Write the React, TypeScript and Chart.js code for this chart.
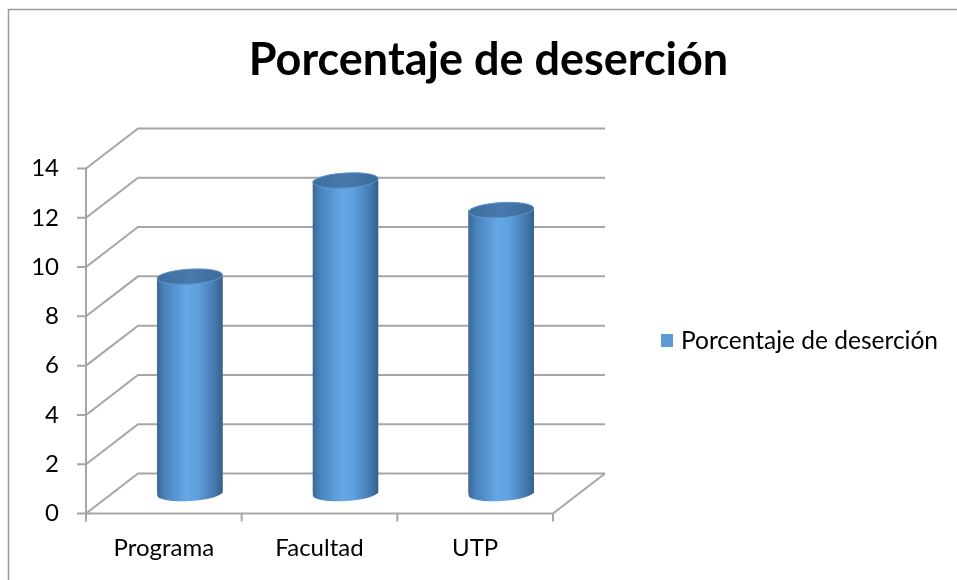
import React, { useEffect, useRef } from "react";
import { Chart, registerables } from "chart.js";

Chart.register(...registerables);

// ---- data ----
const TITLE = "Porcentaje de deserción";
const SERIES_NAME = "Porcentaje de deserción";
const CATEGORIES = ["Programa", "Facultad", "UTP"];
const VALUES = [8.8, 12.7, 11.5];
const Y_MIN = 0;
const Y_MAX = 14;
const Y_STEP = 2;

// ---- style ----
const FONT = "Lato, 'Open Sans', sans-serif";
const DX = 26; // half depth offset (x)
const DY = 20; // half depth offset (y)
const GRID = "#a6a6a6";
const BAR_BASE = "#5b9bd5";
const BAR_WIDTH_FRACTION = 0.42;

function cylGradient(ctx: CanvasRenderingContext2D, cx: number, w: number) {
  const g = ctx.createLinearGradient(cx - w / 2, 0, cx + w / 2, 0);
  g.addColorStop(0, "#3a6897");
  g.addColorStop(0.12, "#4a83bd");
  g.addColorStop(0.45, "#65a8e6");
  g.addColorStop(0.62, "#5fa0de");
  g.addColorStop(0.88, "#4579af");
  g.addColorStop(1, "#345f8c");
  return g;
}

const framePlugin = {
  id: "frame3d",
  beforeDraw(chart: any) {
    const ctx = chart.ctx as CanvasRenderingContext2D;
    ctx.save();
    ctx.fillStyle = "#ffffff";
    ctx.fillRect(0, 0, chart.width, chart.height);
    ctx.strokeStyle = "#9a9a9a";
    ctx.lineWidth = 1.5;
    ctx.beginPath();
    ctx.moveTo(8.5, chart.height + 5);
    ctx.lineTo(8.5, 9.5);
    ctx.lineTo(chart.width + 5, 9.5);
    ctx.stroke();
    ctx.restore();
  },
  beforeDatasetsDraw(chart: any) {
    const ctx = chart.ctx as CanvasRenderingContext2D;
    const a = chart.chartArea;
    const ys = chart.scales.y;
    const xs = chart.scales.x;
    ctx.save();
    ctx.strokeStyle = GRID;
    ctx.lineWidth = 2;
    ys.ticks.forEach((t: any) => {
      const py = ys.getPixelForValue(t.value);
      ctx.beginPath();
      ctx.moveTo(a.left - DX - 9, py + DY);
      ctx.lineTo(a.left - DX, py + DY);
      ctx.lineTo(a.left + DX, py - DY);
      ctx.lineTo(a.right + DX, py - DY);
      ctx.stroke();
    });
    const y0 = ys.getPixelForValue(Y_MIN);
    const yTop = ys.getPixelForValue(Y_MAX);
    ctx.beginPath();
    ctx.moveTo(a.left - DX, yTop + DY);
    ctx.lineTo(a.left - DX, y0 + DY);
    ctx.stroke();
    ctx.beginPath();
    ctx.moveTo(a.left - DX, y0 + DY);
    ctx.lineTo(a.right - DX, y0 + DY);
    ctx.lineTo(a.right + DX, y0 - DY);
    ctx.stroke();
    for (let i = 0; i <= CATEGORIES.length; i++) {
      const px = xs.getPixelForValue(i - 0.5) - DX;
      ctx.beginPath();
      ctx.moveTo(px, y0 + DY);
      ctx.lineTo(px, y0 + DY + 8);
      ctx.stroke();
    }
    ctx.restore();
  },
  afterDatasetsDraw(chart: any) {
    const ctx = chart.ctx as CanvasRenderingContext2D;
    const meta = chart.getDatasetMeta(0);
    ctx.save();
    meta.data.forEach((el: any) => {
      const { x, y, base, width } = el.getProps(["x", "y", "base", "width"], true);
      const rx = width / 2;
      const ry = 7.5;
      const rot = -0.06;
      // cylinder body with rounded bottom
      ctx.beginPath();
      ctx.ellipse(x, base, rx, ry, rot, 0, Math.PI, false);
      ctx.ellipse(x, y, rx, ry, rot, Math.PI, Math.PI * 2, false);
      ctx.closePath();
      ctx.fillStyle = cylGradient(ctx, x, width);
      ctx.fill();
      // top cap
      const tg = ctx.createLinearGradient(x - rx, 0, x + rx, 0);
      tg.addColorStop(0, "#3e6e9f");
      tg.addColorStop(0.5, "#4679ad");
      tg.addColorStop(1, "#3c6b9b");
      ctx.beginPath();
      ctx.ellipse(x, y, rx, ry, rot, 0, Math.PI * 2);
      ctx.fillStyle = tg;
      ctx.fill();
      ctx.strokeStyle = "#5e96cb";
      ctx.lineWidth = 1;
      ctx.stroke();
    });
    ctx.restore();
  },
  afterDraw(chart: any) {
    const ctx = chart.ctx as CanvasRenderingContext2D;
    const a = chart.chartArea;
    const lx = a.right + 82;
    const cy = (a.top + a.bottom) / 2 + DY;
    ctx.save();
    ctx.fillStyle = BAR_BASE;
    ctx.fillRect(lx, cy - 7, 12, 13);
    ctx.fillStyle = "#000000";
    ctx.font = `24.5px ${FONT}`;
    ctx.textBaseline = "middle";
    ctx.textAlign = "left";
    ctx.fillText(SERIES_NAME, lx + 20, cy);
    ctx.restore();
  },
};

export default function App() {
  const ref = useRef<HTMLCanvasElement | null>(null);
  useEffect(() => {
    let chart: Chart | null = null;
    let cancelled = false;
    const build = () => {
      if (cancelled || !ref.current) return;
      chart = new Chart(ref.current, {
        type: "bar",
        data: {
          labels: CATEGORIES,
          datasets: [
            {
              label: SERIES_NAME,
              data: VALUES,
              borderWidth: 0,
              barPercentage: BAR_WIDTH_FRACTION,
              categoryPercentage: 1,
              backgroundColor: (c: any) => {
                const ch = c.chart;
                const xs = ch.scales && ch.scales.x;
                if (!xs || !ch.chartArea || c.dataIndex === undefined) return BAR_BASE;
                const cx = xs.getPixelForValue(c.dataIndex);
                const w = (ch.chartArea.width / CATEGORIES.length) * BAR_WIDTH_FRACTION;
                return cylGradient(ch.ctx, cx, w);
              },
            },
          ],
        },
        options: {
          responsive: false,
          animation: false,
          layout: { padding: { top: 0, left: 20, right: 0, bottom: 0 } },
          plugins: {
            legend: { display: false },
            tooltip: { enabled: false },
            title: {
              display: true,
              text: TITLE,
              color: "#000000",
              font: { family: FONT, size: 45, weight: "bold", lineHeight: 1.2 },
              padding: { top: 33, bottom: 61.5 },
            },
          },
          scales: {
            x: {
              type: "category",
              offset: true,
              grid: { display: false, drawTicks: false, tickLength: 0 },
              border: { display: false },
              ticks: {
                color: "#000000",
                font: { family: FONT, size: 24 },
                padding: 40,
                labelOffset: -DX,
                maxRotation: 0,
              },
              afterFit: (s: any) => {
                s.height = 86.5;
              },
            },
            y: {
              min: Y_MIN,
              max: Y_MAX,
              grid: { display: false, drawTicks: false, tickLength: 0 },
              border: { display: false },
              ticks: {
                stepSize: Y_STEP,
                color: "#000000",
                font: { family: FONT, size: 24 },
                padding: 53,
                labelOffset: DY,
              },
              afterFit: (s: any) => {
                s.width = 92;
              },
            },
            legendSpace: {
              type: "linear",
              position: "right",
              display: true,
              grid: { display: false, drawTicks: false },
              border: { display: false },
              ticks: { display: false },
              afterFit: (s: any) => {
                s.width = 378;
              },
            },
          },
        },
        plugins: [framePlugin],
      });
    };
    const fonts: any = (document as any).fonts;
    if (fonts && fonts.load) {
      Promise.all([fonts.load(`bold 45px Lato`), fonts.load(`24px Lato`)])
        .catch(() => {})
        .then(build);
    } else {
      build();
    }
    return () => {
      cancelled = true;
      if (chart) chart.destroy();
    };
  }, []);
  return (
    <div style={{ position: "fixed", left: 0, top: 0, width: 957, height: 580, background: "#fff" }}>
      <canvas ref={ref} width={957} height={580} style={{ display: "block" }} />
    </div>
  );
}
